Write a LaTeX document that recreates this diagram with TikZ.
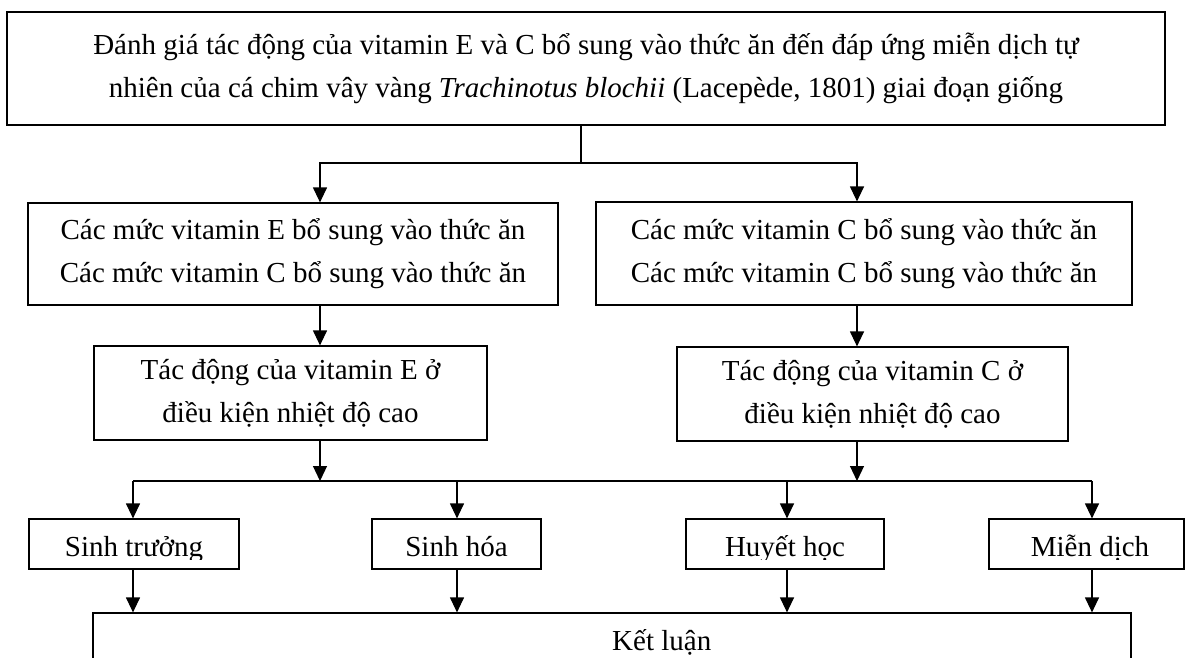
\documentclass[tikz,border=0pt]{standalone}
\usepackage{fontspec}
\setmainfont{Liberation Serif}
\usetikzlibrary{arrows.meta}
\newcommand{\fsz}{\fontsize{29}{43}\selectfont}
\begin{document}
\begin{tikzpicture}[x=1pt,y=-1pt,
  box/.style={draw, line width=1.2pt, inner sep=0pt, align=center, font=\fsz},
  lbl/.style={inner sep=0pt, font=\fsz},
  link/.style={line width=1.2pt},
  arr/.style={line width=1.2pt, -{Triangle[length=15pt,width=14pt]}}]
\clip (0,0) rectangle (1186,658);
\fill[white] (0,0) rectangle (1186,658);
% boxes
\node[box, minimum width=1158pt, minimum height=113pt] (top) at (586,68.5)
  {Đánh giá tác động của vitamin E và C bổ sung vào thức ăn đến đáp ứng miễn dịch tự\\
   nhiên của cá chim vây vàng \textit{Trachinotus blochii} (Lacepède, 1801) giai đoạn giống};
\node[box, minimum width=530pt, minimum height=102pt] (e2) at (293,254)
  {Các mức vitamin E bổ sung vào thức ăn\\Các mức vitamin C bổ sung vào thức ăn};
\node[box, minimum width=536pt, minimum height=103pt] (c2) at (864,253.5)
  {Các mức vitamin C bổ sung vào thức ăn\\Các mức vitamin C bổ sung vào thức ăn};
\node[box, minimum width=393pt, minimum height=94pt] (e3) at (290.5,393)
  {Tác động của vitamin E ở\\điều kiện nhiệt độ cao};
\node[box, minimum width=391pt, minimum height=94pt] (c3) at (872.5,394)
  {Tác động của vitamin C ở\\điều kiện nhiệt độ cao};
\node[box, minimum width=210pt, minimum height=50pt] (s1) at (134,544) {};
\node[box, minimum width=169pt, minimum height=50pt] (s2) at (456.5,544) {};
\node[box, minimum width=198pt, minimum height=50pt] (s3) at (785,544) {};
\node[box, minimum width=195pt, minimum height=50pt] (s4) at (1086.5,544) {};
\node[box, minimum width=1038pt, minimum height=90pt] (kl) at (612,658) {};
\node[lbl, anchor=base west] (klt) at (612,650) {Kết luận};
% clipped labels of the four result boxes
\begin{scope}
  \clip (0,500) rectangle (1186,559);
  \node[lbl, anchor=base] (t1) at (134,556) {Sinh trưởng};
  \node[lbl, anchor=base] (t2) at (456.5,556) {Sinh hóa};
  \node[lbl, anchor=base] (t3) at (785,556) {Huyết học};
  \node[lbl, anchor=base] (t4) at (1090,556) {Miễn dịch};
\end{scope}
% connector coordinates
\coordinate (j1) at (581,163);
\coordinate (aL) at (320,0);
\coordinate (aR) at (857,0);
\coordinate (bus) at (0,481);
\coordinate (k1) at (133,481);
\coordinate (k2) at (457,481);
\coordinate (k3) at (787,481);
\coordinate (k4) at (1092,481);
% connectors
\draw[link] (top.south -| j1) -- (j1);
\draw[arr] (j1) -| (e2.north -| aL);
\draw[arr] (j1) -| (c2.north -| aR);
\draw[arr] (e2.south -| aL) -- (e3.north -| aL);
\draw[arr] (c2.south -| aR) -- (c3.north -| aR);
\draw[arr] (e3.south -| aL) -- (aL |- bus);
\draw[arr] (c3.south -| aR) -- (aR |- bus);
\draw[link] (k1) -- (k4);
\draw[arr] (k1) -- (k1 |- s1.north);
\draw[arr] (k2) -- (k2 |- s2.north);
\draw[arr] (k3) -- (k3 |- s3.north);
\draw[arr] (k4) -- (k4 |- s4.north);
\draw[arr] (k1 |- s1.south) -- (k1 |- kl.north);
\draw[arr] (k2 |- s2.south) -- (k2 |- kl.north);
\draw[arr] (k3 |- s3.south) -- (k3 |- kl.north);
\draw[arr] (k4 |- s4.south) -- (k4 |- kl.north);
\end{tikzpicture}
\end{document}
